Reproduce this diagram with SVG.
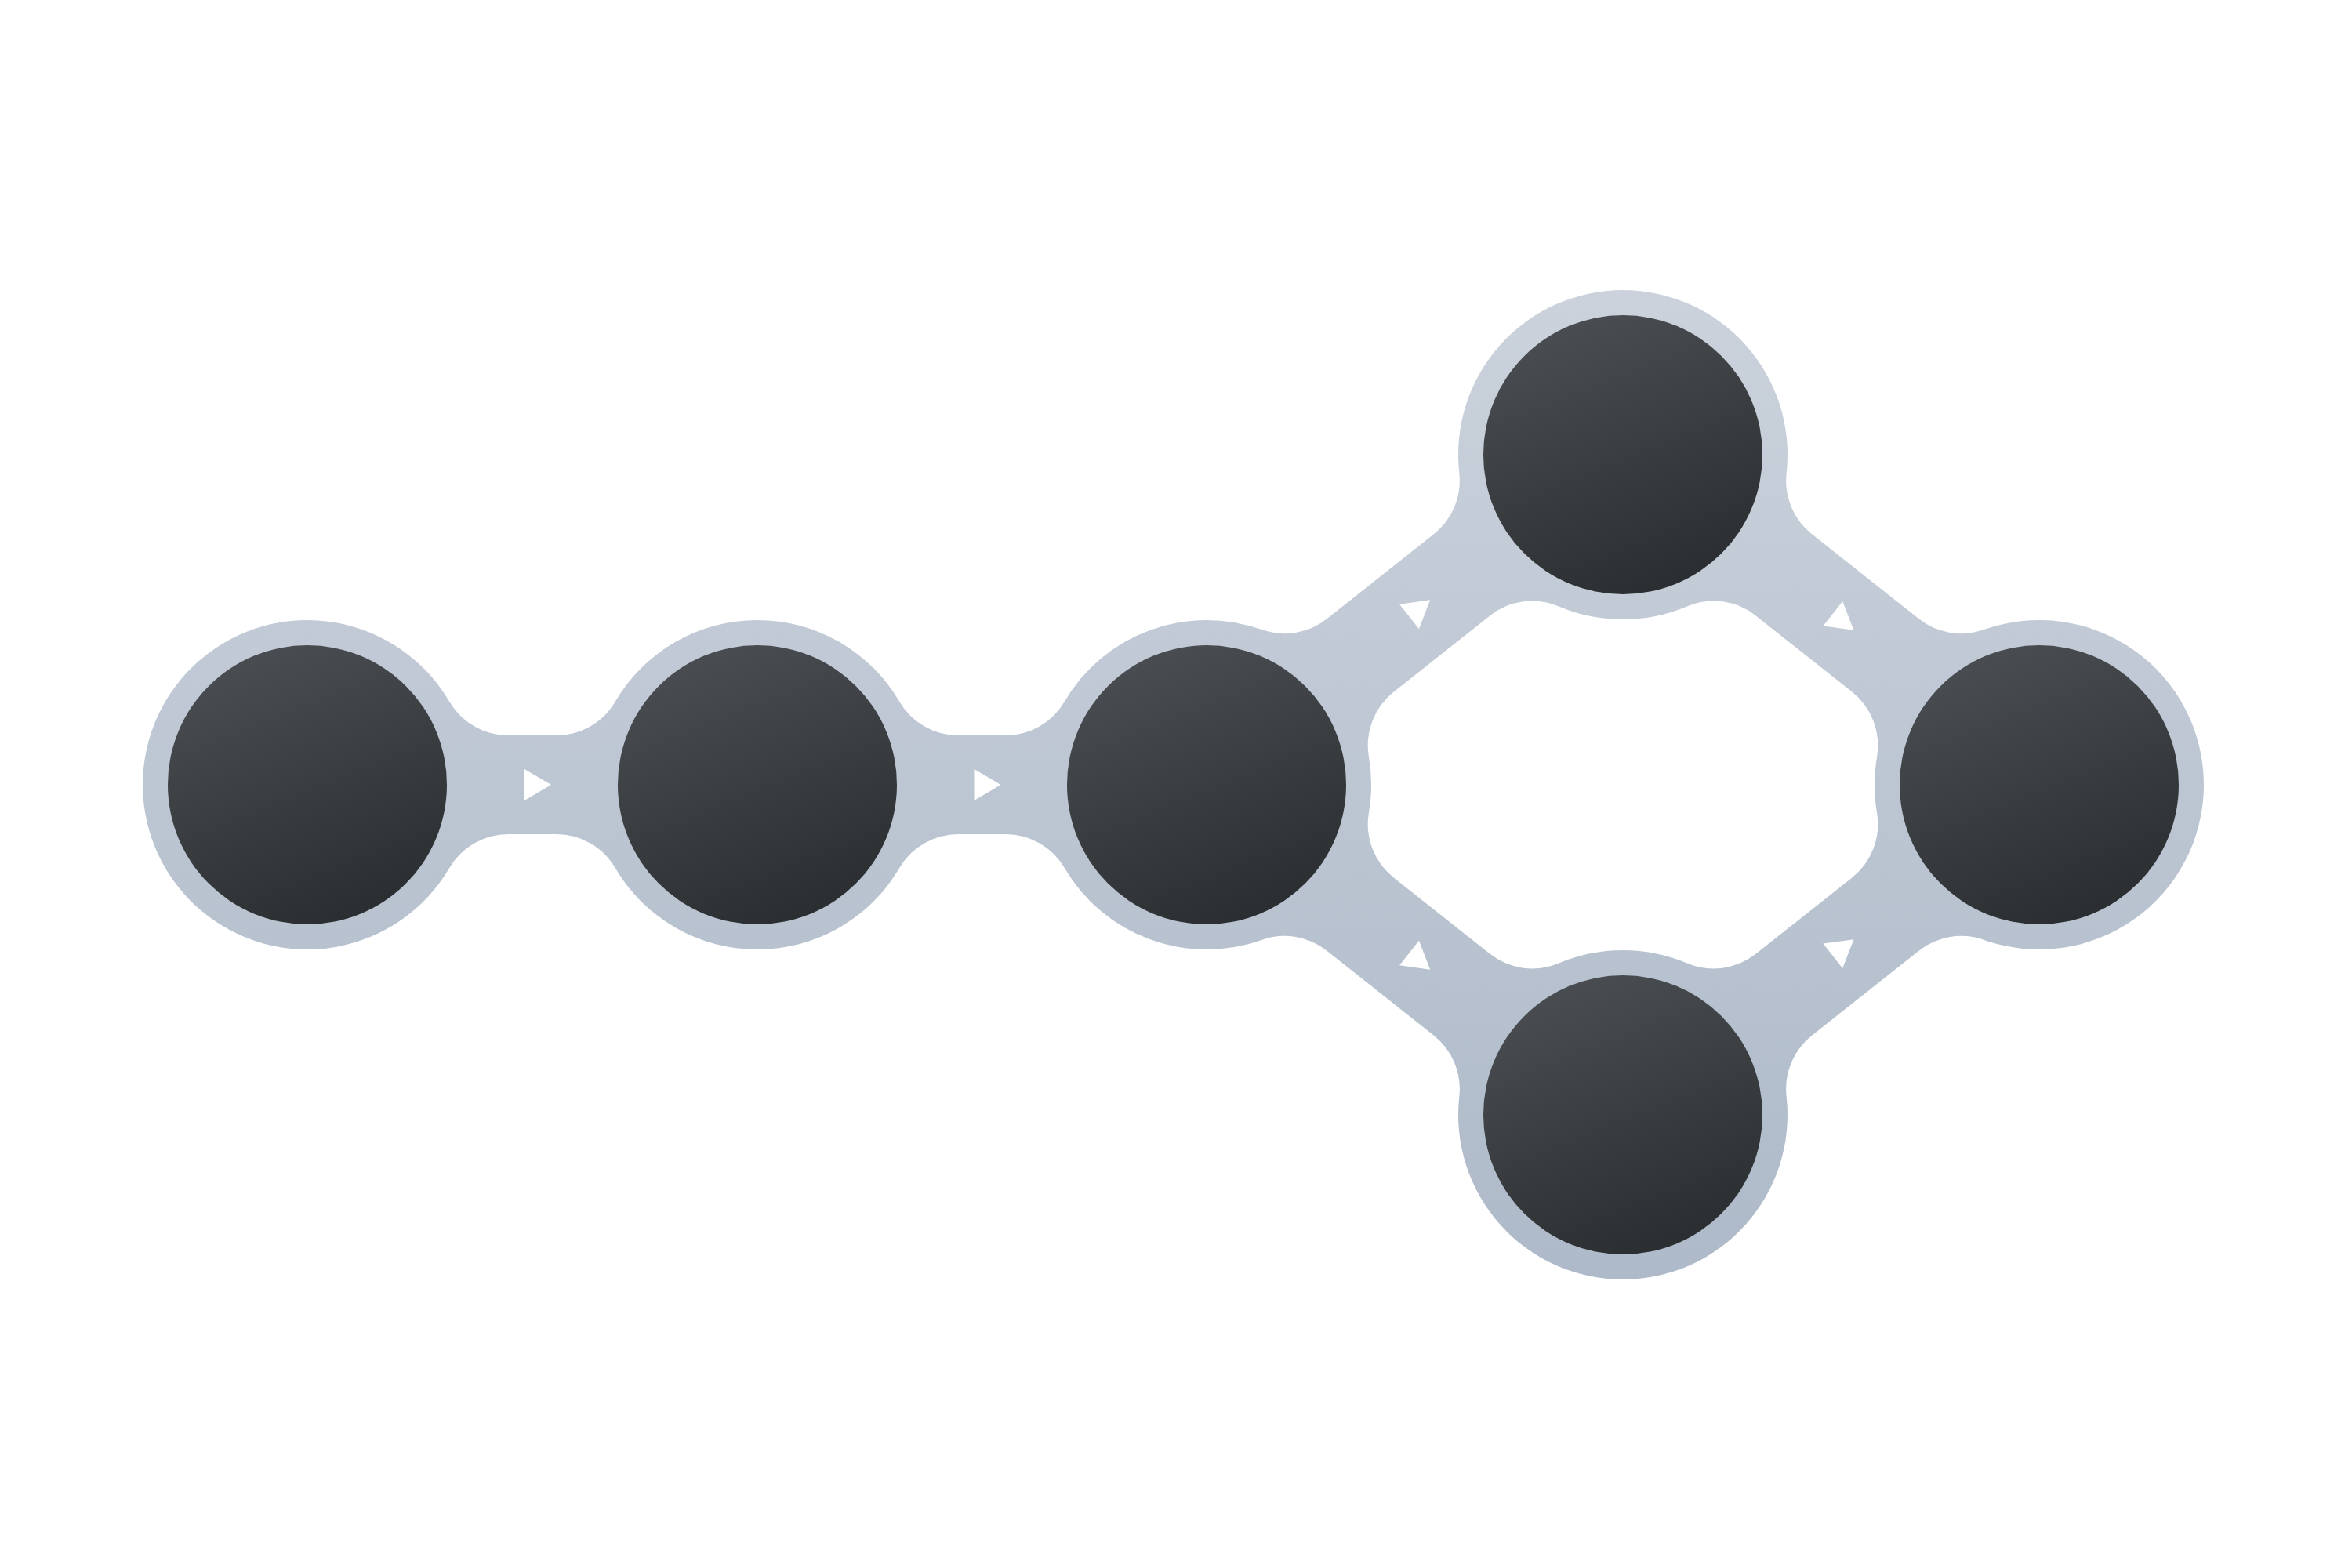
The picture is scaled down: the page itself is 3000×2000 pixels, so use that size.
<svg xmlns="http://www.w3.org/2000/svg" width="3000" height="2000" viewBox="0 0 3000 2000">
  <style>
    .node { fill: url(#nodeGrad); }
    .arrow { fill: #ffffff; }
  </style>
  <defs>
    <linearGradient id="haloGrad" gradientUnits="userSpaceOnUse" x1="0" y1="370" x2="0" y2="1632">
      <stop offset="0" stop-color="#cbd2dc"/>
      <stop offset="1" stop-color="#aebac9"/>
    </linearGradient>
    <linearGradient id="nodeGrad" x1="0.3" y1="0" x2="0.7" y2="1">
      <stop offset="0" stop-color="#4a4e52"/>
      <stop offset="1" stop-color="#2a2d2f"/>
    </linearGradient>
    <path id="arr" d="M -12,-20 L 22,0 L -12,20 Z"/>
  </defs>
  <rect width="3000" height="2000" fill="#ffffff"/>

  <g id="halo">
    <path fill="url(#haloGrad)" fill-rule="evenodd" d="
      M 573.25,894.94
      A 87 87 0 0 0 648.34,938
      L 709.66,938
      A 87 87 0 0 0 784.75,894.94
      A 210 210 0 0 1 1147.25,894.94
      A 87 87 0 0 0 1222.34,938
      L 1282.66,938
      A 87 87 0 0 0 1357.75,894.94
      A 210 210 0 0 1 1609.33,803.12
      A 87 87 0 0 0 1692.51,789.32
      L 1828.89,681.20
      A 87 87 0 0 0 1861.30,603.35
      A 210 210 0 1 1 2278.70,603.35
      A 87 87 0 0 0 2311.11,681.20
      L 2447.49,789.32
      A 87 87 0 0 0 2530.67,803.12
      A 210 210 0 1 1 2530.67,1198.88
      A 87 87 0 0 0 2447.49,1212.68
      L 2311.11,1320.80
      A 87 87 0 0 0 2278.70,1398.65
      A 210 210 0 1 1 1861.30,1398.65
      A 87 87 0 0 0 1828.89,1320.80
      L 1692.51,1212.68
      A 87 87 0 0 0 1609.33,1198.88
      A 210 210 0 0 1 1357.75,1107.06
      A 87 87 0 0 0 1282.66,1064
      L 1222.34,1064
      A 87 87 0 0 0 1147.25,1107.06
      A 210 210 0 0 1 784.75,1107.06
      A 87 87 0 0 0 709.66,1064
      L 648.34,1064
      A 87 87 0 0 0 573.25,1107.06
      A 210 210 0 1 1 573.25,894.94 Z
      M 1777.67,882.59
      L 1900.29,785.39
      A 87 87 0 0 1 1988.23,773.43
      A 210 210 0 0 0 2151.77,773.43
      A 87 87 0 0 1 2239.71,785.39
      L 2362.33,882.59
      A 87 87 0 0 1 2394.02,965.48
      A 210 210 0 0 0 2394.02,1036.52
      A 87 87 0 0 1 2362.33,1119.41
      L 2239.71,1216.61
      A 87 87 0 0 1 2151.77,1228.57
      A 210 210 0 0 0 1988.23,1228.57
      A 87 87 0 0 1 1900.29,1216.61
      L 1777.67,1119.41
      A 87 87 0 0 1 1745.98,1036.52
      A 210 210 0 0 0 1745.98,965.48
      A 87 87 0 0 1 1777.67,882.59 Z"/>
  </g>

  <g id="connectors">
    <use href="#arr" class="arrow" transform="translate(681,1001)"/>
    <use href="#arr" class="arrow" transform="translate(1254.5,1001)"/>
    <use href="#arr" class="arrow" transform="translate(1806.9,779) rotate(-38.41)"/>
    <use href="#arr" class="arrow" transform="translate(1806.9,1223) rotate(38.41)"/>
    <use href="#arr" class="arrow" transform="translate(2347.2,790.2) rotate(38.41)"/>
    <use href="#arr" class="arrow" transform="translate(2347.2,1211.8) rotate(-38.41)"/>
  </g>

  <g id="node1"><circle class="node" cx="392" cy="1001" r="178"/></g>
  <g id="node2"><circle class="node" cx="966" cy="1001" r="178"/></g>
  <g id="node3"><circle class="node" cx="1539" cy="1001" r="178"/></g>
  <g id="node4"><circle class="node" cx="2070" cy="580" r="178"/></g>
  <g id="node5"><circle class="node" cx="2070" cy="1422" r="178"/></g>
  <g id="node6"><circle class="node" cx="2601" cy="1001" r="178"/></g>
</svg>
